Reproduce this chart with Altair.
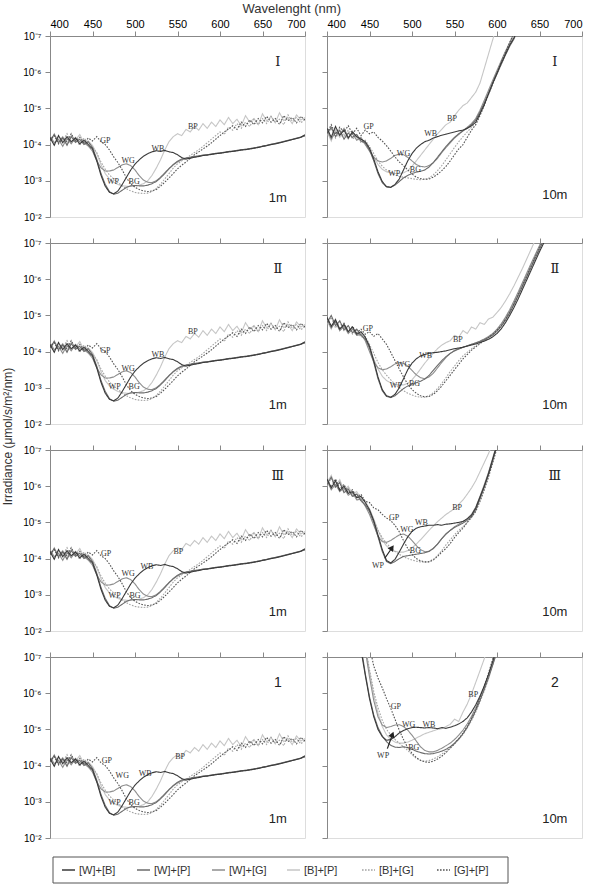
import altair as alt
import pandas as pd

WL = list(range(400, 701, 5))
N = len(WL)
SERIES = ["[W]+[B]", "[W]+[P]", "[W]+[G]", "[B]+[P]", "[B]+[G]", "[G]+[P]"]
KEYS = ["WB", "WP", "WG", "BP", "BG", "GP"]
COLORS = ["#3a3a3a", "#6c6c6c", "#8e8e8e", "#c6c6c6", "#a4a4a4", "#545454"]
DASHES = [[1, 0], [1, 0], [1, 0], [1, 0], [1.6, 1.4], [1.6, 1.4]]
DRAW_ORDER = ["BP", "BG", "WG", "WP", "GP", "WB"]
XTICKS = [400, 450, 500, 550, 600, 650, 700]
YTICKS = [-7, -6, -5, -4, -3, -2]


def pad(v):
    return v + [None] * (N - len(v))


# ---------- left column (1 m), same shape in all four rows ----------
L_WB = [-4.20, -3.98, -4.25, -4.05, -4.22, -4.08, -4.18, -4.02, -4.12, -4.00,
        -3.88, -3.55, -3.15, -2.85, -2.68, -2.64, -2.72, -2.90, -3.10, -3.30,
        -3.46, -3.58, -3.68, -3.75, -3.80, -3.83, -3.81, -3.84, -3.80, -3.78,
        -3.72, -3.64, -3.60, -3.62, -3.65, -3.67, -3.70, -3.71, -3.73, -3.75,
        -3.76, -3.78, -3.80, -3.81, -3.83, -3.85, -3.86, -3.88, -3.90, -3.92,
        -3.95, -3.97, -4.00, -4.02, -4.05, -4.08, -4.11, -4.14, -4.17, -4.20,
        -4.27]
L_WP = [-4.10, -4.28, -4.05, -4.20, -3.98, -4.22, -4.06, -4.15, -4.00, -4.08,
        -3.92, -3.60, -3.20, -2.90, -2.70, -2.63, -2.66, -2.74, -2.82, -2.86,
        -2.87, -2.86, -2.86, -2.88, -2.92, -2.98, -3.08, -3.20, -3.33, -3.45,
        -3.54, -3.60, -3.63, -3.65, -3.67, -3.69, -3.71, -3.72, -3.74, -3.76,
        -3.77, -3.79, -3.81, -3.82, -3.84, -3.86, -3.87, -3.89, -3.91, -3.93,
        -3.96, -3.98, -4.01, -4.03, -4.06, -4.09, -4.12, -4.15, -4.18, -4.21,
        -4.25]
L_WG = [-4.25, -4.05, -4.15, -3.95, -4.18, -4.02, -4.20, -4.08, -4.05, -3.96,
        -3.82, -3.55, -3.36, -3.27, -3.27, -3.30, -3.37, -3.44, -3.47, -3.42,
        -3.30, -3.14, -3.02, -2.96, -2.95, -3.00, -3.10, -3.22, -3.34, -3.44,
        -3.52, -3.58, -3.62, -3.64, -3.66, -3.68, -3.70, -3.72, -3.73, -3.75,
        -3.77, -3.78, -3.80, -3.82, -3.83, -3.85, -3.87, -3.88, -3.90, -3.93,
        -3.95, -3.98, -4.00, -4.03, -4.05, -4.08, -4.11, -4.14, -4.17, -4.20,
        -4.24]
L_BP = [-4.05, -4.30, -4.10, -4.22, -4.00, -4.25, -4.12, -4.28, -4.05, -4.10,
        -3.98, -3.75, -3.45, -3.20, -3.05, -2.96, -2.90, -2.86, -2.85, -2.85,
        -2.86, -2.88, -2.92, -3.00, -3.15, -3.35, -3.58, -3.85, -4.08, -4.22,
        -4.30, -4.25, -4.42, -4.35, -4.50, -4.40, -4.58, -4.45, -4.62, -4.50,
        -4.68, -4.55, -4.75, -4.58, -4.70, -4.52, -4.80, -4.62, -4.72, -4.55,
        -4.85, -4.65, -4.78, -4.60, -4.88, -4.66, -4.75, -4.58, -4.82, -4.68,
        -4.75]
L_BG = [-4.15, -4.00, -4.22, -4.10, -4.30, -4.05, -4.15, -3.98, -4.18, -4.05,
        -3.92, -3.78, -3.52, -3.32, -3.16, -3.05, -2.95, -2.86, -2.78, -2.72,
        -2.68, -2.66, -2.65, -2.66, -2.70, -2.79, -2.91, -3.05, -3.20, -3.35,
        -3.47, -3.55, -3.62, -3.70, -3.78, -3.86, -3.95, -4.05, -4.15, -4.25,
        -4.35, -4.28, -4.48, -4.40, -4.58, -4.45, -4.62, -4.50, -4.70, -4.55,
        -4.72, -4.58, -4.78, -4.62, -4.70, -4.55, -4.82, -4.65, -4.75, -4.60,
        -4.70]
L_GP = [-4.12, -4.25, -4.02, -4.18, -4.08, -4.30, -4.10, -4.20, -4.05, -4.18,
        -4.10, -4.22, -4.08, -4.00, -3.85, -3.66, -3.50, -3.30, -3.08, -2.92,
        -2.82, -2.76, -2.72, -2.70, -2.72, -2.76, -2.85, -2.96, -3.08, -3.20,
        -3.33, -3.43, -3.52, -3.62, -3.72, -3.80, -3.88, -3.96, -4.05, -4.15,
        -4.25, -4.35, -4.43, -4.52, -4.42, -4.62, -4.50, -4.68, -4.55, -4.72,
        -4.60, -4.78, -4.62, -4.72, -4.56, -4.80, -4.66, -4.75, -4.60, -4.78,
        -4.68]

# ---------- right column, row I (10 m) ----------
R1_WB = pad([-4.45, -4.20, -4.50, -4.25, -4.40, -4.18, -4.35, -4.22, -4.15, -4.08,
             -3.90, -3.60, -3.25, -2.98, -2.84, -2.82, -2.90, -3.05, -3.30, -3.55,
             -3.75, -3.90, -4.00, -4.08, -4.12, -4.18, -4.22, -4.26, -4.29, -4.32,
             -4.35, -4.38, -4.40, -4.45, -4.52, -4.62, -4.85, -5.10, -5.40, -5.70,
             -5.98, -6.25, -6.50, -6.75, -6.95, -7.20])
R1_WP = pad([-4.30, -4.48, -4.22, -4.40, -4.15, -4.32, -4.20, -4.28, -4.10, -4.05,
             -3.85, -3.55, -3.20, -2.95, -2.83, -2.82, -2.88, -2.98, -3.08, -3.15,
             -3.20, -3.24, -3.26, -3.30, -3.38, -3.50, -3.65, -3.80, -3.95, -4.08,
             -4.20, -4.30, -4.38, -4.45, -4.55, -4.68, -4.90, -5.15, -5.42, -5.70,
             -5.95, -6.22, -6.48, -6.72, -6.92, -7.20])
R1_WG = pad([-4.40, -4.15, -4.35, -4.28, -4.45, -4.20, -4.30, -4.12, -4.20, -4.00,
             -3.82, -3.65, -3.55, -3.52, -3.55, -3.62, -3.70, -3.74, -3.72, -3.65,
             -3.55, -3.45, -3.40, -3.38, -3.42, -3.50, -3.62, -3.78, -3.92, -4.05,
             -4.18, -4.28, -4.38, -4.48, -4.58, -4.72, -4.95, -5.22, -5.50, -5.78,
             -6.05, -6.32, -6.58, -6.82, -7.08])
R1_BP = pad([-4.35, -4.10, -4.42, -4.20, -4.30, -4.15, -4.38, -4.18, -4.10, -4.02,
             -3.88, -3.65, -3.45, -3.32, -3.25, -3.22, -3.20, -3.20, -3.22, -3.28,
             -3.40, -3.55, -3.70, -3.85, -4.00, -4.15, -4.30, -4.42, -4.55, -4.62,
             -4.80, -4.95, -5.08, -5.15, -5.30, -5.45, -5.70, -6.10, -6.50, -6.90,
             -7.30])
R1_BG = pad([-4.25, -4.45, -4.18, -4.35, -4.22, -4.40, -4.15, -4.25, -4.05, -4.12,
             -3.95, -3.75, -3.55, -3.40, -3.30, -3.22, -3.16, -3.12, -3.10, -3.08,
             -3.06, -3.04, -3.03, -3.04, -3.08, -3.16, -3.28, -3.42, -3.58, -3.75,
             -3.92, -4.08, -4.22, -4.35, -4.48, -4.62, -4.85, -5.12, -5.40, -5.68,
             -5.95, -6.22, -6.48, -6.75, -7.00, -7.25])
R1_GP = pad([-4.32, -4.55, -4.28, -4.48, -4.35, -4.52, -4.30, -4.45, -4.25, -4.40,
             -4.30, -4.35, -4.20, -4.10, -3.97, -3.82, -3.66, -3.52, -3.42, -3.30,
             -3.19, -3.10, -3.06, -3.04, -3.05, -3.10, -3.18, -3.28, -3.40, -3.55,
             -3.72, -3.88, -4.00, -4.20, -4.40, -4.55, -4.80, -5.08, -5.38, -5.68,
             -5.98, -6.28, -6.55, -6.82, -7.08])

# ---------- right column, row II (10 m) ----------
R2_WB = pad([-4.95, -4.70, -4.88, -4.62, -4.75, -4.55, -4.68, -4.48, -4.55, -4.40,
             -4.15, -3.75, -3.30, -2.95, -2.78, -2.74, -2.82, -3.00, -3.25, -3.50,
             -3.68, -3.80, -3.88, -3.92, -3.95, -3.97, -3.98, -4.00, -4.02, -4.05,
             -4.08, -4.10, -4.12, -4.15, -4.18, -4.21, -4.25, -4.29, -4.34, -4.41,
             -4.50, -4.63, -4.80, -5.00, -5.22, -5.46, -5.72, -5.98, -6.24, -6.50,
             -6.76, -7.00, -7.25])
R2_WP = pad([-4.80, -5.00, -4.72, -4.85, -4.60, -4.72, -4.52, -4.62, -4.45, -4.35,
             -4.10, -3.70, -3.25, -2.92, -2.76, -2.73, -2.78, -2.88, -2.98, -3.05,
             -3.10, -3.14, -3.18, -3.24, -3.34, -3.48, -3.62, -3.75, -3.86, -3.95,
             -4.02, -4.07, -4.12, -4.16, -4.20, -4.24, -4.28, -4.33, -4.39, -4.46,
             -4.56, -4.70, -4.87, -5.07, -5.30, -5.55, -5.80, -6.06, -6.32, -6.58,
             -6.83, -7.08, -7.30])
R2_WG = pad([-4.90, -4.65, -4.82, -4.58, -4.70, -4.50, -4.62, -4.45, -4.48, -4.30,
             -4.00, -3.72, -3.55, -3.50, -3.52, -3.58, -3.66, -3.70, -3.68, -3.60,
             -3.48, -3.36, -3.28, -3.25, -3.30, -3.40, -3.55, -3.70, -3.84, -3.95,
             -4.03, -4.08, -4.12, -4.16, -4.20, -4.24, -4.29, -4.35, -4.42, -4.50,
             -4.62, -4.77, -4.95, -5.16, -5.40, -5.65, -5.91, -6.17, -6.43, -6.68,
             -6.93, -7.18])
R2_BP = pad([-4.85, -4.62, -4.90, -4.58, -4.78, -4.52, -4.68, -4.45, -4.50, -4.35,
             -4.10, -3.80, -3.52, -3.32, -3.20, -3.14, -3.10, -3.08, -3.08, -3.12,
             -3.22, -3.36, -3.52, -3.68, -3.82, -3.95, -4.08, -4.18, -4.25, -4.30,
             -4.45, -4.40, -4.58, -4.50, -4.68, -4.62, -4.80, -4.75, -4.90, -4.95,
             -5.08, -5.22, -5.40, -5.60, -5.82, -6.06, -6.30, -6.56, -6.82, -7.08,
             -7.35])
R2_BG = pad([-4.75, -4.95, -4.65, -4.82, -4.58, -4.70, -4.48, -4.58, -4.40, -4.42,
             -4.20, -3.95, -3.70, -3.50, -3.35, -3.22, -3.10, -3.00, -2.92, -2.85,
             -2.80, -2.76, -2.74, -2.74, -2.78, -2.86, -2.98, -3.12, -3.28, -3.45,
             -3.60, -3.75, -3.88, -3.98, -4.08, -4.16, -4.24, -4.32, -4.40, -4.49,
             -4.60, -4.74, -4.92, -5.12, -5.35, -5.60, -5.86, -6.12, -6.38, -6.64,
             -6.90, -7.15, -7.40])
R2_GP = pad([-4.92, -4.68, -4.85, -4.62, -4.78, -4.55, -4.70, -4.52, -4.62, -4.48,
             -4.55, -4.42, -4.50, -4.35, -4.20, -3.98, -3.75, -3.52, -3.30, -3.10,
             -2.95, -2.85, -2.78, -2.75, -2.76, -2.82, -2.92, -3.05, -3.20, -3.35,
             -3.50, -3.65, -3.80, -3.92, -4.04, -4.13, -4.22, -4.30, -4.39, -4.48,
             -4.59, -4.72, -4.90, -5.10, -5.33, -5.58, -5.84, -6.10, -6.36, -6.62,
             -6.88, -7.12, -7.38])

# ---------- right column, row III (10 m) ----------
R3_WB = pad([-6.20, -5.95, -6.15, -5.88, -6.00, -5.80, -5.85, -5.68, -5.72, -5.55,
             -5.35, -5.05, -4.65, -4.25, -3.95, -3.88, -3.98, -4.18, -4.40, -4.60,
             -4.75, -4.84, -4.88, -4.90, -4.92, -4.92, -4.94, -4.92, -4.95, -4.96,
             -4.98, -5.00, -5.03, -5.10, -5.20, -5.40, -5.70, -6.00, -6.35, -6.75,
             -7.15])
R3_WP = pad([-6.05, -6.25, -5.98, -6.10, -5.82, -5.92, -5.72, -5.78, -5.60, -5.48,
             -5.30, -5.00, -4.60, -4.20, -3.92, -3.86, -3.92, -4.00, -4.06, -4.08,
             -4.10, -4.12, -4.14, -4.16, -4.20, -4.28, -4.40, -4.55, -4.68, -4.78,
             -4.86, -4.92, -4.98, -5.06, -5.16, -5.36, -5.66, -5.98, -6.32, -6.72,
             -7.12])
R3_WG = pad([-6.15, -5.90, -6.05, -5.85, -5.95, -5.75, -5.82, -5.62, -5.65, -5.45,
             -5.22, -4.92, -4.62, -4.47, -4.45, -4.50, -4.58, -4.65, -4.68, -4.62,
             -4.50, -4.36, -4.25, -4.19, -4.20, -4.28, -4.40, -4.55, -4.68, -4.78,
             -4.88, -4.95, -5.02, -5.10, -5.22, -5.42, -5.72, -6.04, -6.38, -6.78,
             -7.18])
R3_BP = pad([-6.10, -6.30, -6.00, -6.18, -5.90, -6.00, -5.78, -5.85, -5.65, -5.58,
             -5.38, -5.10, -4.78, -4.52, -4.35, -4.25, -4.20, -4.18, -4.18, -4.22,
             -4.30, -4.40, -4.52, -4.65, -4.78, -4.90, -5.02, -5.12, -5.22, -5.30,
             -5.38, -5.50, -5.62, -5.78, -5.95, -6.15, -6.40, -6.65, -6.90, -7.20])
R3_BG = pad([-6.00, -6.22, -5.95, -6.12, -5.85, -5.95, -5.70, -5.80, -5.58, -5.50,
             -5.32, -5.05, -4.78, -4.58, -4.42, -4.30, -4.20, -4.12, -4.05, -4.00,
             -3.96, -3.93, -3.91, -3.90, -3.92, -3.98, -4.08, -4.22, -4.38, -4.52,
             -4.66, -4.78, -4.88, -5.00, -5.12, -5.32, -5.62, -5.95, -6.30, -6.70,
             -7.10])
R3_GP = pad([-6.18, -5.98, -6.20, -5.92, -6.05, -5.82, -5.90, -5.70, -5.78, -5.58,
             -5.55, -5.40, -5.35, -5.22, -5.12, -5.05, -4.92, -4.74, -4.50, -4.28,
             -4.12, -4.00, -3.94, -3.91, -3.91, -3.96, -4.06, -4.18, -4.28, -4.42,
             -4.58, -4.72, -4.84, -5.00, -5.15, -5.30, -5.58, -5.90, -6.25, -6.65,
             -7.05])

# ---------- right column, bottom row (10 m, panel 2) ----------
R4_WB = pad([None] * 8 + [
    -7.20, -6.50, -5.85, -5.35, -5.00, -4.80, -4.70, -4.72, -4.80, -4.90,
    -4.97, -5.02, -5.05, -5.06, -5.05, -5.04, -5.05, -5.04, -5.02, -5.05,
    -5.03, -5.06, -5.10, -5.15, -5.22, -5.32, -5.48, -5.68, -5.92, -6.20,
    -6.52, -6.88, -7.25])
R4_WP = pad([None] * 8 + [
    -7.30, -6.55, -5.90, -5.40, -5.05, -4.82, -4.66, -4.56, -4.51, -4.50,
    -4.52, -4.50, -4.45, -4.40, -4.36, -4.33, -4.32, -4.33, -4.36, -4.40,
    -4.45, -4.52, -4.62, -4.74, -4.88, -5.06, -5.28, -5.52, -5.80, -6.10,
    -6.42, -6.78, -7.15])
R4_WG = pad([None] * 9 + [
    -7.20, -6.45, -5.80, -5.35, -5.12, -5.05, -5.08, -5.12, -5.13, -5.08,
    -4.98, -4.84, -4.68, -4.52, -4.42, -4.38, -4.38, -4.42, -4.48, -4.55,
    -4.62, -4.72, -4.84, -4.98, -5.15, -5.36, -5.60, -5.88, -6.18, -6.50,
    -6.85, -7.22])
R4_BP = pad([None] * 9 + [
    -7.30, -6.60, -5.95, -5.45, -5.08, -4.85, -4.72, -4.65, -4.62, -4.62,
    -4.65, -4.70, -4.76, -4.82, -4.88, -4.92, -4.96, -5.00, -5.02, -5.08,
    -5.14, -5.28, -5.22, -5.48, -5.70, -5.98, -6.30, -6.62, -6.95, -7.30])
R4_BG = pad([None] * 9 + [
    -7.30, -6.65, -6.05, -5.60, -5.25, -5.00, -4.85, -4.72, -4.62, -4.52,
    -4.42, -4.30, -4.20, -4.14, -4.12, -4.14, -4.18, -4.24, -4.32, -4.40,
    -4.50, -4.60, -4.72, -4.86, -5.04, -5.24, -5.48, -5.76, -6.06, -6.40,
    -6.78, -7.18])
R4_GP = pad([None] * 10 + [
    -7.30, -6.75, -6.42, -6.15, -5.85, -5.58, -5.28, -4.98, -4.72, -4.50,
    -4.34, -4.22, -4.15, -4.10, -4.09, -4.12, -4.18, -4.26, -4.36, -4.48,
    -4.60, -4.74, -4.90, -5.08, -5.30, -5.55, -5.85, -6.18, -6.55, -6.95,
    -7.35])

LEFT = dict(WB=L_WB, WP=L_WP, WG=L_WG, BP=L_BP, BG=L_BG, GP=L_GP)
RIGHT = [
    dict(WB=R1_WB, WP=R1_WP, WG=R1_WG, BP=R1_BP, BG=R1_BG, GP=R1_GP),
    dict(WB=R2_WB, WP=R2_WP, WG=R2_WG, BP=R2_BP, BG=R2_BG, GP=R2_GP),
    dict(WB=R3_WB, WP=R3_WP, WG=R3_WG, BP=R3_BP, BG=R3_BG, GP=R3_GP),
    dict(WB=R4_WB, WP=R4_WP, WG=R4_WG, BP=R4_BP, BG=R4_BG, GP=R4_GP),
]
for d in [LEFT] + RIGHT:
    for k, v in d.items():
        assert len(v) == N, (k, len(v))

# curve-label positions (nm, exponent): order GP, WG, WB, BP, WP, BG
LBL_NAMES = ["GP", "WG", "WB", "BP", "WP", "BG"]
LBL_LEFT = [
    [(465, -4.11), (492, -3.56), (527, -3.88), (568, -4.48), (474, -2.98), (499, -2.98)],
    [(465, -4.02), (492, -3.52), (527, -3.90), (568, -4.54), (476, -3.02), (499, -3.02)],
    [(466, -4.13), (492, -3.57), (514, -3.76), (551, -4.17), (476, -2.98), (500, -2.98)],
    [(467, -4.13), (485, -3.71), (512, -3.77), (553, -4.24), (476, -2.97), (499, -2.97)],
]
LBL_RIGHT = [
    [(449, -4.50), (490, -3.74), (522, -4.29), (547, -4.70), (479, -3.20), (504, -3.31)],
    [(448, -4.63), (490, -3.63), (516, -3.88), (554, -4.32), (481, -3.05), (503, -3.10)],
    [(479, -5.11), (494, -4.79), (511, -4.97), (553, -5.40), (460, -3.80), (504, -4.22)],
    [(481, -5.62), (496, -5.13), (520, -5.13), (572, -5.96), (466, -4.26), (502, -4.50)],
]
ROMAN_LEFT = ["Ⅰ", "Ⅱ", "Ⅲ", "1"]
ROMAN_RIGHT = ["Ⅰ", "Ⅱ", "Ⅲ", "2"]
DEPTH_LEFT = "1m"
DEPTH_RIGHT = "10m"
# arrows (tail nm, tail e, head nm, head e, angle)
ARROWS = {2: (468, -4.01, 476.5, -4.30, 35), 3: (471, -4.47, 477, -4.86, 21)}

FONT = "Liberation Sans"
SERIF = "Liberation Serif"
YLABEL = ("datum.value == -7 ? '10⁻⁷' : datum.value == -6 ? '10⁻⁶' : "
          "datum.value == -5 ? '10⁻⁵' : datum.value == -4 ? '10⁻⁴' : "
          "datum.value == -3 ? '10⁻³' : '10⁻²'")

W, H = 255, 181
NM_PER_PX = 300 / W


def long_df(d):
    rows = []
    for key in DRAW_ORDER:
        name = SERIES[KEYS.index(key)]
        for w, v in zip(WL, d[key]):
            if v is not None:
                rows.append({"wl": w, "e": v, "series": name})
    return pd.DataFrame(rows)


COLOR = alt.Color("series:N", scale=alt.Scale(domain=SERIES, range=COLORS), legend=None)
DASH = alt.StrokeDash("series:N", scale=alt.Scale(domain=SERIES, range=DASHES), legend=None)


def panel(d, labels, row, col):
    xax = alt.Axis(orient="top", values=XTICKS, labels=(row == 0), tickSize=5,
                   labelPadding=2, title=None, grid=False, labelFontSize=11)
    if col == 0:
        if row == 1:
            yax = alt.Axis(values=YTICKS, labelExpr=YLABEL, tickSize=5, labelPadding=4,
                           grid=False, labelFontSize=10,
                           title="Irradiance (μmol/s/m²/nm)", titleX=-36, titleY=193,
                           titleAngle=270, titleAlign="center", titleBaseline="bottom",
                           titleFontSize=12, titleFontWeight="normal", titleFont=FONT,
                           titleColor="#333")
        else:
            yax = alt.Axis(values=YTICKS, labelExpr=YLABEL, tickSize=5, labelPadding=4,
                           grid=False, labelFontSize=10, title=None)
    else:
        yax = alt.Axis(values=YTICKS, labels=False, tickSize=5, grid=False, title=None)
    x = alt.X("wl:Q", scale=alt.Scale(domain=[400, 700], nice=False, zero=False), axis=xax)
    y = alt.Y("e:Q", scale=alt.Scale(domain=[-7, -2], reverse=True, nice=False, zero=False), axis=yax)

    lines = alt.Chart(long_df(d)).mark_line(clip=True, strokeWidth=1.1).encode(
        x=x, y=y, color=COLOR, strokeDash=DASH)
    lab_df = pd.DataFrame({"t": LBL_NAMES, "wl": [p[0] for p in labels], "e": [p[1] for p in labels]})
    labs = alt.Chart(lab_df).mark_text(font=SERIF, fontSize=8, color="#333").encode(x=x, y=y, text="t:N")

    roman = (ROMAN_LEFT if col == 0 else ROMAN_RIGHT)[row]
    is_num = roman in ("1", "2")
    rom_df = pd.DataFrame({"t": [roman], "wl": [668], "e": [-6.28]})
    rom = alt.Chart(rom_df).mark_text(
        font=FONT if is_num else "DejaVu Serif", fontSize=14 if is_num else 13, color="#222"
    ).encode(x=x, y=y, text="t:N")

    depth = DEPTH_LEFT if col == 0 else DEPTH_RIGHT
    dep_e = -2.62 if (row == 0 and col == 1) else -2.52
    dep_df = pd.DataFrame({"t": [depth], "wl": [668], "e": [dep_e]})
    dep = alt.Chart(dep_df).mark_text(font=FONT, fontSize=13, color="#222").encode(x=x, y=y, text="t:N")

    layers = [lines, labs, rom, dep]
    if col == 1 and row in ARROWS:
        a = ARROWS[row]
        arr_df = pd.DataFrame({"wl": [a[0]], "e": [a[1]], "wl2": [a[2]], "e2": [a[3]]})
        shaft = alt.Chart(arr_df).mark_rule(color="#222", strokeWidth=1.2).encode(
            x=x, y=y, x2="wl2:Q", y2="e2:Q")
        head_df = pd.DataFrame({"wl": [a[2]], "e": [a[3]]})
        head = alt.Chart(head_df).mark_point(shape="triangle-up", filled=True, size=45,
                                             angle=a[4], color="#222", opacity=1).encode(x=x, y=y)
        layers += [shaft, head]

    if row == 3 and col == 0:
        # legend strip drawn below the bottom-left panel (positions in px from the panel's left edge)
        leg_df = pd.DataFrame({
            "series": SERIES,
            "lx0": [400 + (12 + 75 * i) * NM_PER_PX for i in range(6)],
            "lx1": [400 + (25 + 75 * i) * NM_PER_PX for i in range(6)],
            "lxt": [400 + (29 + 75 * i) * NM_PER_PX for i in range(6)],
        })
        box_df = pd.DataFrame({"b0": [400 + 3 * NM_PER_PX], "b1": [400 + 458 * NM_PER_PX]})
        box = alt.Chart(box_df).mark_rect(fill="white", stroke="#555", strokeWidth=1).encode(
            x=alt.X("b0:Q", scale=alt.Scale(domain=[400, 700], nice=False, zero=False), axis=xax),
            x2="b1:Q", y=alt.value(H + 19), y2=alt.value(H + 45))
        leg_lines = alt.Chart(leg_df).mark_rule(strokeWidth=1.3).encode(
            x=alt.X("lx0:Q", axis=xax), x2="lx1:Q", y=alt.value(H + 32),
            color=COLOR, strokeDash=DASH)
        leg_text = alt.Chart(leg_df).mark_text(align="left", baseline="middle", fontSize=11,
                                               font=FONT, color="#333").encode(
            x=alt.X("lxt:Q", axis=xax), y=alt.value(H + 32.5), text="series:N")
        layers += [box, leg_lines, leg_text]
    return alt.layer(*layers).properties(width=W, height=H)


panels = []
for r in range(4):
    panels.append(panel(LEFT, LBL_LEFT[r], r, 0))
    panels.append(panel(RIGHT[r], LBL_RIGHT[r], r, 1))

chart = alt.concat(
    *panels, columns=2, spacing={"row": 26, "column": 22}, bounds="flush",
    title=alt.TitleParams("Wavelenght (nm)", fontSize=13, fontWeight="normal", anchor="middle",
                          font=FONT, color="#333", offset=2),
    padding={"left": 0, "top": 2, "right": 0, "bottom": 4},
).configure_view(stroke="#555", strokeWidth=1).configure_axis(
    domainColor="#555", tickColor="#555", labelColor="#333", labelFont=FONT,
).configure(background="white")

chart.save("out.html", embed_options={"renderer": "svg", "actions": False})
